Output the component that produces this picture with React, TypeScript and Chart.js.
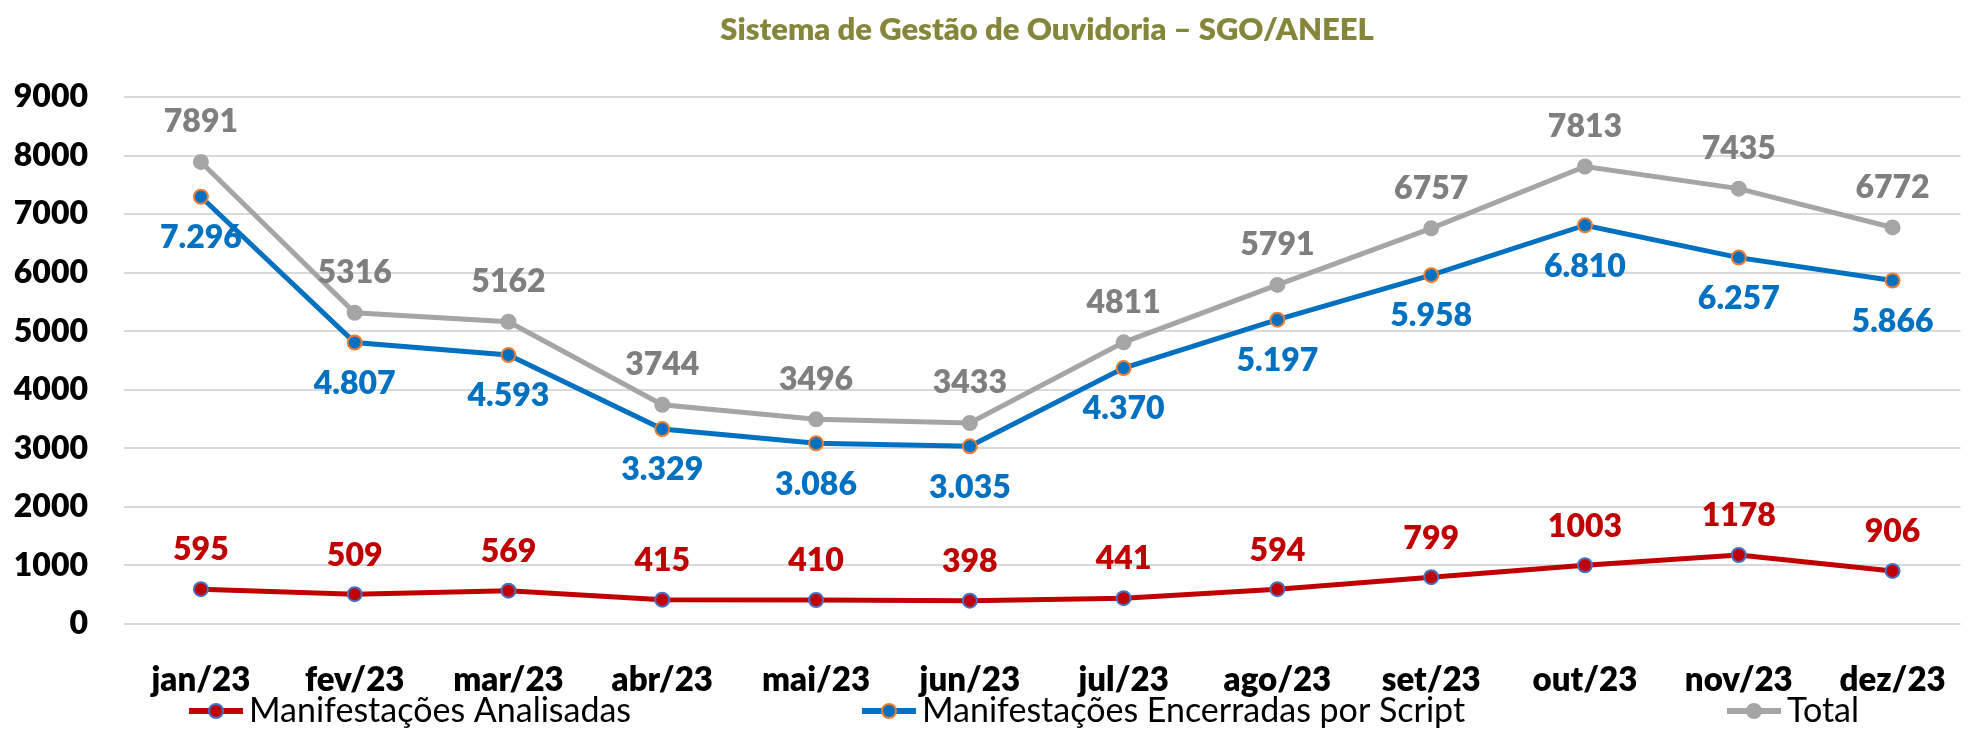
import React, { useEffect, useRef } from "react";
import { Chart, registerables } from "chart.js";

Chart.register(...registerables);

const chartTitle = "Sistema de Gestão de Ouvidoria – SGO/ANEEL";
const months = ["jan/23", "fev/23", "mar/23", "abr/23", "mai/23", "jun/23", "jul/23", "ago/23", "set/23", "out/23", "nov/23", "dez/23"];
const analisadas = [595, 509, 569, 415, 410, 398, 441, 594, 799, 1003, 1178, 906];
const encerradas = [7296, 4807, 4593, 3329, 3086, 3035, 4370, 5197, 5958, 6810, 6257, 5866];
const total = [7891, 5316, 5162, 3744, 3496, 3433, 4811, 5791, 6757, 7813, 7435, 6772];
const seriesNames = ["Manifestações Analisadas", "Manifestações Encerradas por Script", "Total"];
const yMin = 0;
const yMax = 9000;
const yStep = 1000;

const FONT = "Lato, 'Noto Sans', sans-serif";
const RED = "#C00000";
const BLUE = "#0070C0";
const GRAY = "#A5A5A5";
const W = 1975;
const H = 732;

const dotThousands = (v: number) => String(v).replace(/\B(?=(\d{3})+(?!\d))/g, ".");

export default function App() {
  const ref = useRef<HTMLCanvasElement | null>(null);

  useEffect(() => {
    if (!ref.current) return;
    const seriesStyle = [
      { color: RED, border: "#4472C4", labelColor: RED, offset: -39, fmt: (v: number) => String(v) },
      { color: BLUE, border: "#ED7D31", labelColor: BLUE, offset: 41, fmt: dotThousands },
      { color: GRAY, border: GRAY, labelColor: "#7F7F7F", offset: -40, fmt: (v: number) => String(v) },
    ];
    const seriesData = [analisadas, encerradas, total];

    const labelsPlugin = {
      id: "valueLabels",
      afterDatasetsDraw(chart: any) {
        const ctx = chart.ctx;
        ctx.save();
        ctx.font = `800 32px ${FONT}`;
        ctx.textAlign = "center";
        ctx.textBaseline = "middle";
        seriesData.forEach((arr, di) => {
          const meta = chart.getDatasetMeta(di);
          const st = seriesStyle[di];
          ctx.fillStyle = st.labelColor;
          meta.data.forEach((pt: any, i: number) => {
            ctx.fillText(st.fmt(arr[i]), pt.x, pt.y + st.offset);
          });
        });
        ctx.restore();
      },
    };

    const decorPlugin = {
      id: "decor",
      afterDraw(chart: any) {
        const ctx = chart.ctx;
        ctx.save();
        // title
        ctx.font = `800 31px ${FONT}`;
        ctx.fillStyle = "#86863A";
        ctx.textAlign = "center";
        ctx.textBaseline = "middle";
        ctx.fillText(chartTitle, 1047, 30);
        // legend
        const xs = [189, 862, 1727];
        const y = 711;
        ctx.font = `34px ${FONT}`;
        ctx.textAlign = "left";
        seriesNames.forEach((name, i) => {
          const st = seriesStyle[i];
          const x = xs[i];
          ctx.strokeStyle = st.color;
          ctx.lineWidth = 6;
          ctx.beginPath();
          ctx.moveTo(x, y);
          ctx.lineTo(x + 54, y);
          ctx.stroke();
          ctx.beginPath();
          ctx.arc(x + 27, y, 7, 0, Math.PI * 2);
          ctx.fillStyle = st.color;
          ctx.fill();
          ctx.lineWidth = 2;
          ctx.strokeStyle = st.border;
          ctx.stroke();
          ctx.fillStyle = "#000000";
          ctx.fillText(name, x + 60, y);
        });
        ctx.restore();
      },
    };

    const mk = (arr: number[], i: number) => ({
      label: seriesNames[i],
      data: arr.map((v, k) => ({ x: k, y: v })),
      borderColor: seriesStyle[i].color,
      backgroundColor: seriesStyle[i].color,
      borderWidth: 5,
      pointRadius: 7,
      pointBackgroundColor: seriesStyle[i].color,
      pointBorderColor: seriesStyle[i].border,
      pointBorderWidth: 2,
      tension: 0,
      order: 3 - i,
    });

    const chart = new Chart(ref.current, {
      type: "line",
      data: {
        datasets: [mk(analisadas, 0), mk(encerradas, 1), mk(total, 2)],
      },
      options: {
        responsive: false,
        animation: false,
        devicePixelRatio: 1,
        layout: { padding: { top: 97, left: 0, right: 0, bottom: 0 } },
        plugins: { legend: { display: false }, title: { display: false }, tooltip: { enabled: false } },
        scales: {
          x: {
            type: "linear",
            min: -0.5,
            max: -0.5 + (W - 124) / 155,
            grid: { display: false },
            border: { display: false },
            afterBuildTicks: (axis: any) => {
              axis.ticks = months.map((_, i) => ({ value: i }));
            },
            afterFit: (scale: any) => {
              scale.height = 108;
            },
            ticks: {
              autoSkip: false,
              maxRotation: 0,
              padding: 29,
              color: "#000000",
              font: { family: FONT, size: 33, weight: "800" },
              callback: (v: any) => months[Math.round(Number(v))] ?? "",
            },
          },
          y: {
            min: yMin,
            max: yMax,
            grid: { color: "#D9D9D9", lineWidth: 2, drawTicks: false },
            border: { display: false },
            afterFit: (scale: any) => {
              scale.width = 124;
            },
            ticks: {
              stepSize: yStep,
              padding: 36,
              color: "#000000",
              font: { family: FONT, size: 32, weight: "800" },
              callback: (v: any) => String(v),
            },
          },
        },
      },
      plugins: [labelsPlugin, decorPlugin],
    } as any);
    return () => chart.destroy();
  }, []);

  return (
    <div style={{ position: "fixed", left: 0, top: 0, width: W, height: H, background: "#ffffff" }}>
      <canvas ref={ref} width={W} height={H} style={{ display: "block" }} />
    </div>
  );
}
